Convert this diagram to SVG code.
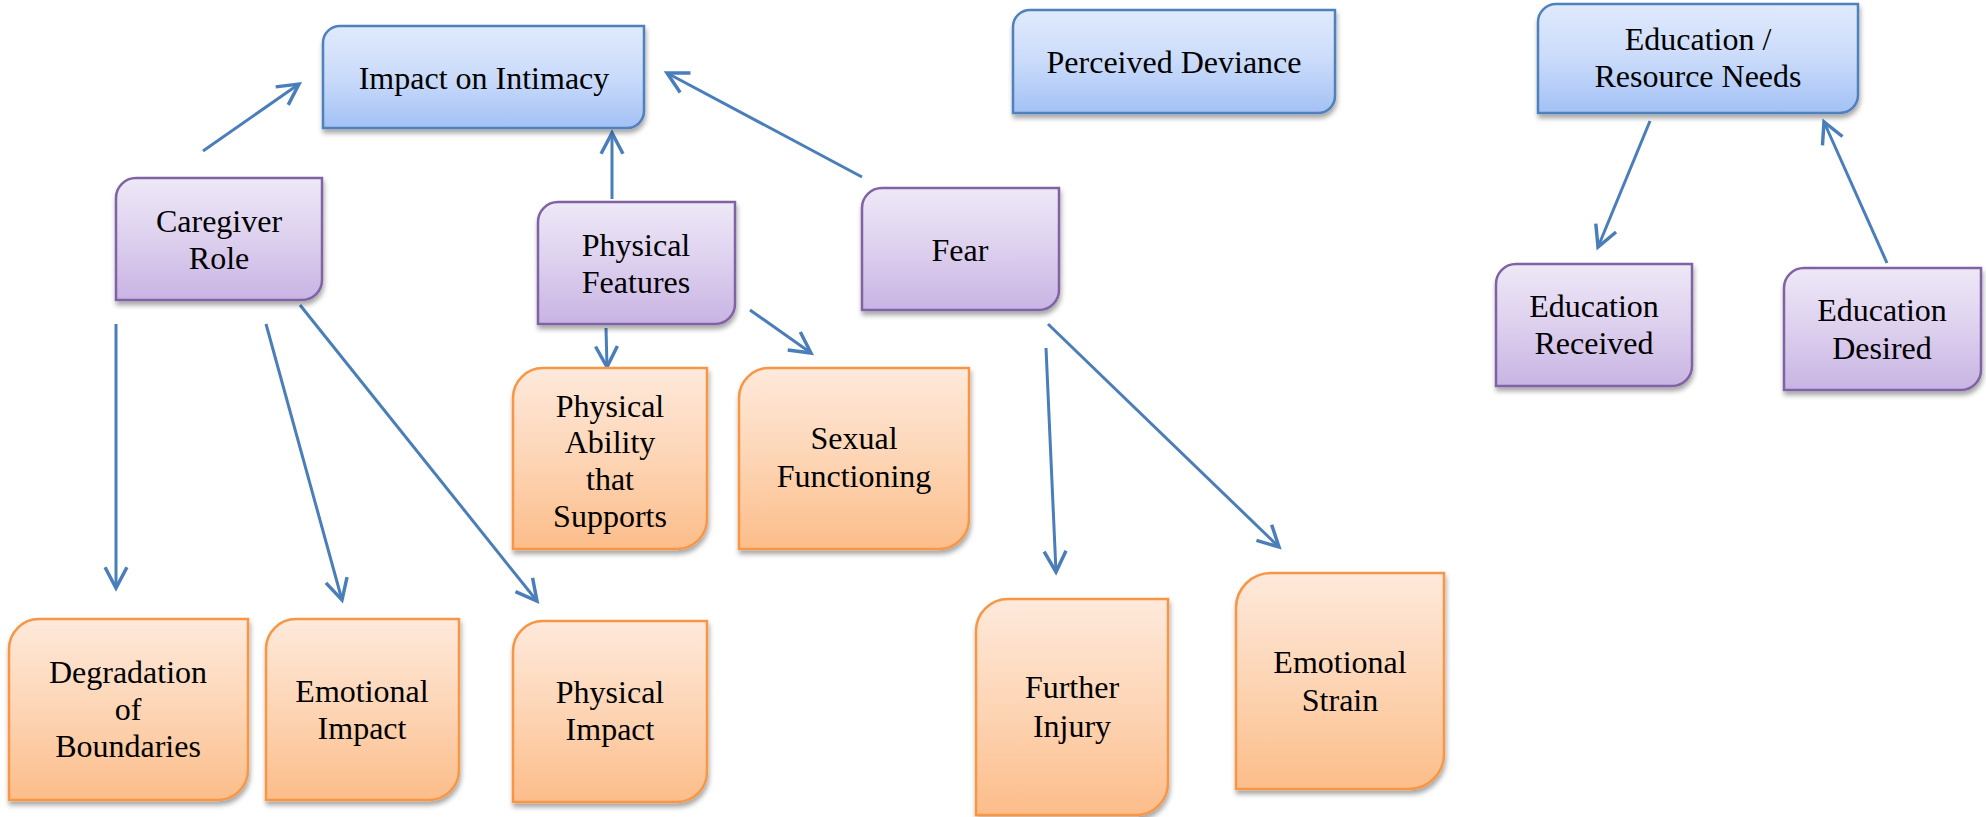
<svg xmlns="http://www.w3.org/2000/svg" width="1986" height="817" viewBox="0 0 1986 817">
<defs>
<linearGradient id="gBlue" x1="0" y1="0" x2="0" y2="1"><stop offset="0" stop-color="#E0EAFC"/><stop offset="0.5" stop-color="#CADBFA"/><stop offset="1" stop-color="#A3C1F5"/></linearGradient>
<linearGradient id="gPurple" x1="0" y1="0" x2="0" y2="1"><stop offset="0" stop-color="#EEE8F7"/><stop offset="0.5" stop-color="#DDD0EE"/><stop offset="1" stop-color="#C8B4E3"/></linearGradient>
<linearGradient id="gOrange" x1="0" y1="0" x2="0" y2="1"><stop offset="0" stop-color="#FEE9DB"/><stop offset="0.5" stop-color="#FDD5B5"/><stop offset="1" stop-color="#FCBD8A"/></linearGradient>
<filter id="sh" x="-10%" y="-10%" width="125%" height="130%"><feDropShadow dx="1" dy="4" stdDeviation="2.5" flood-color="#000" flood-opacity="0.35"/></filter>
<marker id="ah" markerUnits="userSpaceOnUse" markerWidth="30" markerHeight="30" viewBox="-22 -12 26 24" refX="0" refY="0" orient="auto">
<path d="M-18,-9.5 L0,0 L-18,9.5" fill="none" stroke="#4A7EBB" stroke-width="3"/>
</marker>
</defs>
<style>
.blue{fill:url(#gBlue);stroke:#4F81BD;stroke-width:2.5;filter:url(#sh)}
.purple{fill:url(#gPurple);stroke:#8064A2;stroke-width:2.5;filter:url(#sh)}
.orange{fill:url(#gOrange);stroke:#F79646;stroke-width:2.5;filter:url(#sh)}
text{font-family:"Liberation Serif","Times New Roman",serif;font-size:32px;fill:#000;text-anchor:middle}
.c line{stroke:#4A7EBB;stroke-width:3;marker-end:url(#ah)}
</style>

<g id="connectors" class="c">
<line x1="203" y1="151" x2="299" y2="84"/>
<line x1="612" y1="199" x2="612" y2="133"/>
<line x1="862" y1="177" x2="667" y2="73"/>
<line x1="116" y1="324" x2="116" y2="588"/>
<line x1="266" y1="324" x2="342" y2="600"/>
<line x1="300" y1="305" x2="537" y2="601"/>
<line x1="606" y1="328" x2="607" y2="367"/>
<line x1="750" y1="310" x2="811" y2="353"/>
<line x1="1046" y1="348" x2="1056" y2="572"/>
<line x1="1048" y1="324" x2="1279" y2="547"/>
<line x1="1650" y1="121" x2="1598" y2="247"/>
<line x1="1887" y1="263" x2="1824" y2="122"/>
</g>

<g id="impact-on-intimacy">
<path class="blue" d="M340,26 H644 V111 A17,17 0 0 1 627,128 H323 V43 A17,17 0 0 1 340,26 Z"/>
<text x="484" y="89">Impact on Intimacy</text>
</g>
<g id="perceived-deviance">
<path class="blue" d="M1030,10 H1335 V96 A17,17 0 0 1 1318,113 H1013 V27 A17,17 0 0 1 1030,10 Z"/>
<text x="1174" y="73">Perceived Deviance</text>
</g>
<g id="education-resource-needs">
<path class="blue" d="M1556,4 H1858 V95 A18,18 0 0 1 1840,113 H1538 V22 A18,18 0 0 1 1556,4 Z"/>
<text x="1698" y="50">Education /</text>
<text x="1698" y="87">Resource Needs</text>
</g>
<g id="caregiver-role">
<path class="purple" d="M136,178 H322 V280 A20,20 0 0 1 302,300 H116 V198 A20,20 0 0 1 136,178 Z"/>
<text x="219" y="232">Caregiver</text>
<text x="219" y="269">Role</text>
</g>
<g id="physical-features">
<path class="purple" d="M558,202 H735 V304 A20,20 0 0 1 715,324 H538 V222 A20,20 0 0 1 558,202 Z"/>
<text x="636" y="256">Physical</text>
<text x="636" y="293">Features</text>
</g>
<g id="fear">
<path class="purple" d="M882,188 H1059 V290 A20,20 0 0 1 1039,310 H862 V208 A20,20 0 0 1 882,188 Z"/>
<text x="960" y="261">Fear</text>
</g>
<g id="education-received">
<path class="purple" d="M1516,264 H1692 V366 A20,20 0 0 1 1672,386 H1496 V284 A20,20 0 0 1 1516,264 Z"/>
<text x="1594" y="317">Education</text>
<text x="1594" y="354">Received</text>
</g>
<g id="education-desired">
<path class="purple" d="M1804,268 H1981 V370 A20,20 0 0 1 1961,390 H1784 V288 A20,20 0 0 1 1804,268 Z"/>
<text x="1882" y="321">Education</text>
<text x="1882" y="359">Desired</text>
</g>
<g id="physical-ability">
<path class="orange" d="M543,368 H707 V519 A30,30 0 0 1 677,549 H513 V398 A30,30 0 0 1 543,368 Z"/>
<text x="610" y="417">Physical</text>
<text x="610" y="453">Ability</text>
<text x="610" y="490">that</text>
<text x="610" y="527">Supports</text>
</g>
<g id="sexual-functioning">
<path class="orange" d="M769,368 H969 V519 A30,30 0 0 1 939,549 H739 V398 A30,30 0 0 1 769,368 Z"/>
<text x="854" y="449">Sexual</text>
<text x="854" y="487">Functioning</text>
</g>
<g id="degradation-of-boundaries">
<path class="orange" d="M39,619 H248 V770 A30,30 0 0 1 218,800 H9 V649 A30,30 0 0 1 39,619 Z"/>
<text x="128" y="683">Degradation</text>
<text x="128" y="720">of</text>
<text x="128" y="757">Boundaries</text>
</g>
<g id="emotional-impact">
<path class="orange" d="M296,619 H459 V770 A30,30 0 0 1 429,800 H266 V649 A30,30 0 0 1 296,619 Z"/>
<text x="362" y="702">Emotional</text>
<text x="362" y="739">Impact</text>
</g>
<g id="physical-impact">
<path class="orange" d="M543,621 H707 V772 A30,30 0 0 1 677,802 H513 V651 A30,30 0 0 1 543,621 Z"/>
<text x="610" y="703">Physical</text>
<text x="610" y="740">Impact</text>
</g>
<g id="further-injury">
<path class="orange" d="M1008,599 H1168 V783 A32,32 0 0 1 1136,815 H976 V631 A32,32 0 0 1 1008,599 Z"/>
<text x="1072" y="698">Further</text>
<text x="1072" y="737">Injury</text>
</g>
<g id="emotional-strain">
<path class="orange" d="M1271,573 H1444 V754 A35,35 0 0 1 1409,789 H1236 V608 A35,35 0 0 1 1271,573 Z"/>
<text x="1340" y="673">Emotional</text>
<text x="1340" y="711">Strain</text>
</g>
</svg>
